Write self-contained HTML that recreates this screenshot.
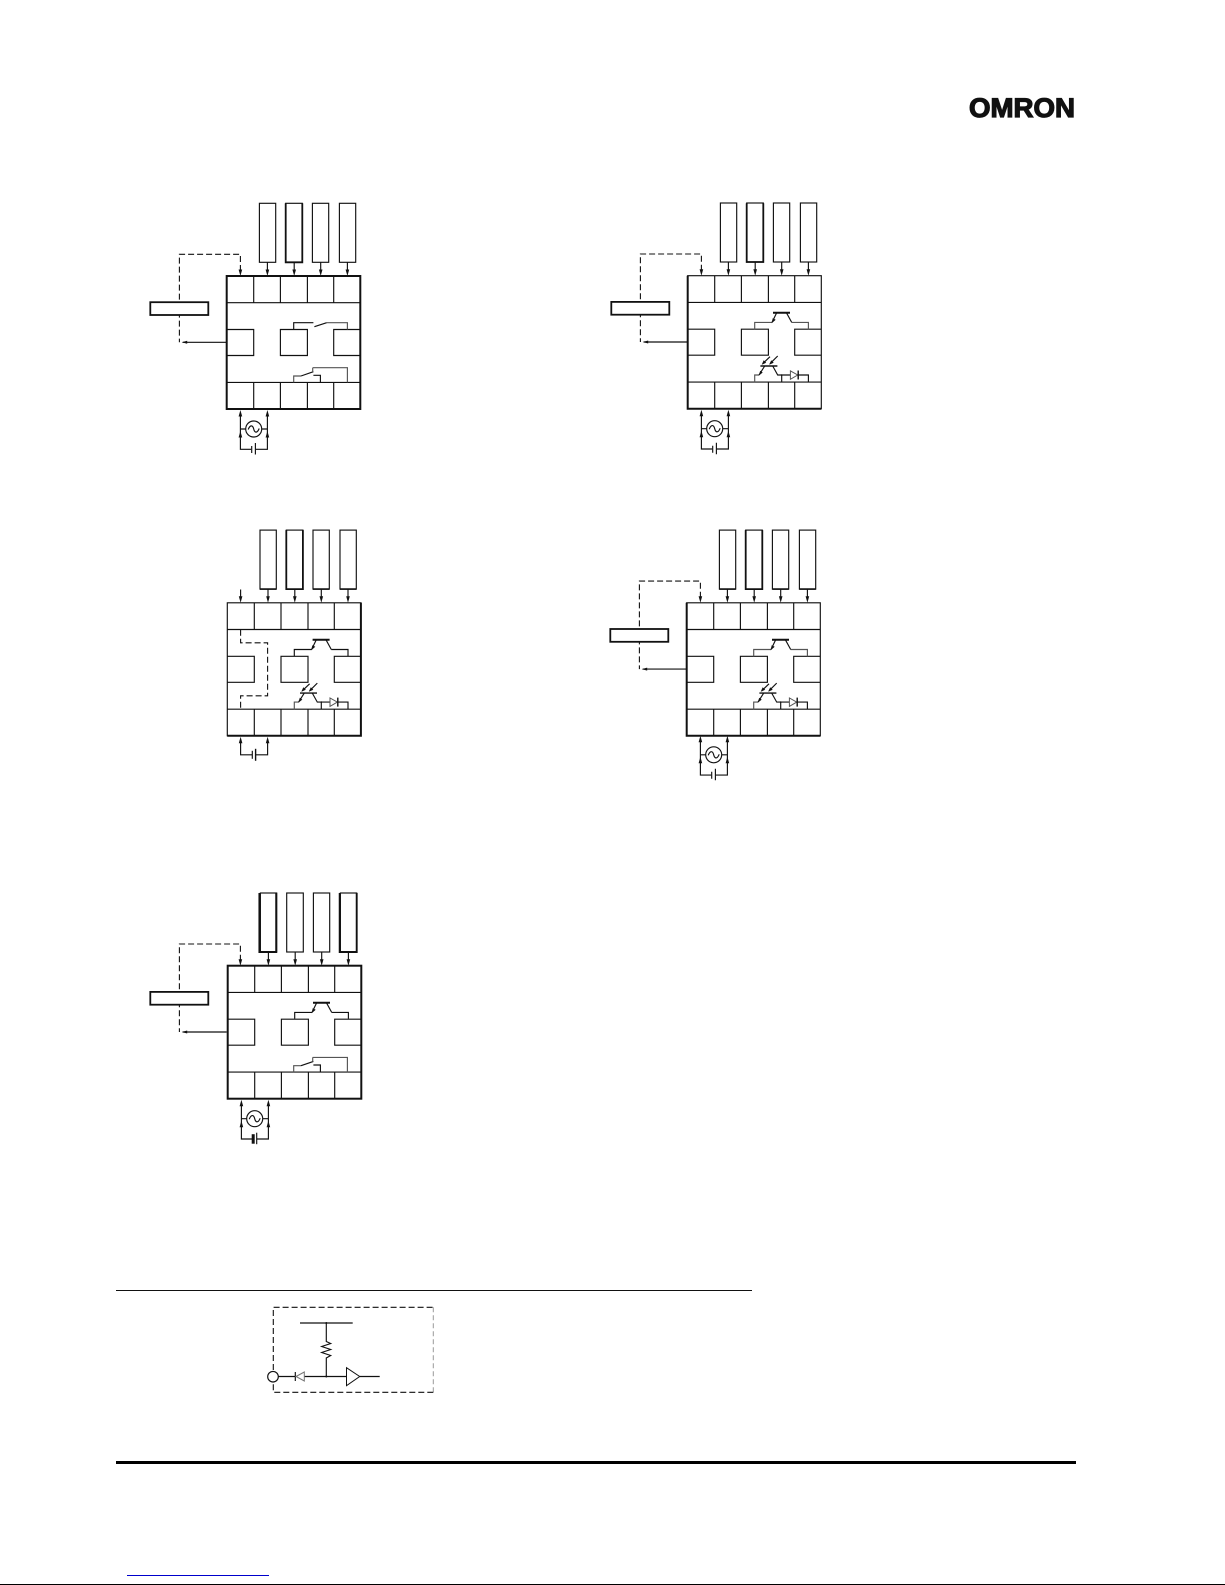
<!DOCTYPE html>
<html><head><meta charset="utf-8"><style>
html,body{margin:0;padding:0;background:#fff;width:1225px;height:1585px;overflow:hidden}
svg{display:block}
.l{fill:none;stroke:#111;stroke-width:1.15}
.g{fill:none;stroke:#555;stroke-width:1.15}
.d{fill:none;stroke:#111;stroke-width:1.1;stroke-dasharray:6 3}
.h{fill:none;stroke:#111;stroke-width:2}
.a{fill:#111;stroke:none}
.r{fill:#fff;stroke:#111;stroke-width:1.15}
</style></head><body>
<svg width="1225" height="1585" viewBox="0 0 1225 1585" xmlns="http://www.w3.org/2000/svg">
<defs>
<polygon id="ad" class="a" points="0,0 -1.8,-6.5 1.8,-6.5"/>
<polygon id="au" class="a" points="0,0 -1.8,6.5 1.8,6.5"/>
<g id="base">
  <rect class="l" x="0" y="0" width="133.6" height="133"/>
  <path class="l" d="M0 26.7H133.6M0 106.4H133.6M27 0V26.7M53.7 0V26.7M80.7 0V26.7M107 0V26.7M27 106.4V133M53.7 106.4V133M80.7 106.4V133M107 106.4V133"/>
  <path class="l" d="M0 53.5H27V79.5H0M53.7 53.5H80.7V79.5H53.7ZM133.6 53.5H107V79.5H133.6"/>
  <g>
    <rect class="r" x="32.7" y="-72.7" width="16.3" height="59"/>
    <rect class="r" x="59" y="-72.7" width="16.6" height="59"/>
    <rect class="r" x="85.7" y="-72.7" width="16.3" height="59"/>
    <rect class="r" x="112.7" y="-72.7" width="16.3" height="59"/>
  </g>
  <path class="l" d="M40.7 -13.7V-3M67.5 -13.7V-3M94 -13.7V-3M120.7 -13.7V-3"/>
  <use href="#ad" x="40.7"/><use href="#ad" x="67.5"/><use href="#ad" x="94"/><use href="#ad" x="120.7"/>
</g>
<g id="ext">
  <path class="d" d="M13.7 -5V-21.7H-47.3V66.3"/>
  <path class="l" d="M-44 66.3H0"/>
  <polygon class="a" points="-45,66.3 -39.5,64.8 -39.5,67.8"/>
  <use href="#ad" x="13.7"/>
  <rect x="-76.4" y="26.2" width="58" height="12.8" fill="#fff" stroke="#111" stroke-width="1.8"/>
</g>
<g id="acb">
  <path class="l" d="M13.7 138V173.3H24.5M29 173.3H40.7V138M13.7 153H19M35 153H40.7"/>
  <circle class="l" cx="27" cy="153" r="8"/>
  <path class="l" d="M21.5 153.5C23.5 148.5 26 149 27 153S30.5 157.5 32.5 152.5"/>
  <use href="#au" x="13.7" y="134"/><use href="#au" x="40.7" y="134"/>
  <use href="#au" x="13.7" y="155"/><use href="#au" x="40.7" y="155"/>
</g>
<g id="ac">
  <use href="#acb"/>
  <path class="l" d="M25 170V177M28.7 167V178.5"/>
</g>
<g id="ttop">
  <path class="g" d="M67 53.5V46.7H84.3"/>
  <path class="g" d="M104 46.7H120.7V53.5"/>
  <path class="l" d="M84.3 46.7L89 37M98.7 37L104 46.7"/>
  <path d="M85.3 37H102.3" stroke="#111" stroke-width="2"/>
  <polygon class="a" points="84,47.5 85,42.5 88,44"/>
</g>
<g id="tlow">
  <path class="g" d="M67 106.4V99.3H71.3"/>
  <path class="l" d="M71.3 99.3L77 90.3M85 90.3L90 99.3H94V106.4M94 99.3H102.7M110 99.3H120.7V106.4"/>
  <path d="M72.7 90.3H89.7" stroke="#111" stroke-width="1.4"/>
  <polygon class="a" points="71,100 72.5,95 75,96.8"/>
  <polygon fill="#fff" stroke="#555" points="102.7,95.2 102.7,103.6 110,99.3"/>
  <path d="M110.5 94.8V103.8" stroke="#111" stroke-width="1.4"/>
  <path class="l" d="M75 88L82.3 81M82.3 88L90 80.3"/>
  <polygon class="a" points="74,89 76,84.5 78.5,87"/>
  <polygon class="a" points="81.5,89 83.5,84.5 86,87"/>
  <circle class="a" cx="94" cy="99.3" r=".8"/>
</g>
<g id="swlow">
  <path class="g" d="M67 106.4V100H74.3"/>
  <path class="l" d="M74.3 100L86.7 95.7"/>
  <path class="g" d="M86 91.7H120.7V106.4M86 91.7V96"/>
  <path class="l" d="M86.7 99.3H93.7V106.4"/>
</g>
</defs>

<!-- Logo -->
<text x="969" y="117" font-family="'Liberation Sans',sans-serif" font-weight="700" font-size="26.5" textLength="106" lengthAdjust="spacingAndGlyphs" fill="#111" stroke="#111" stroke-width="1.2">OMRON</text>

<!-- D1 -->
<g transform="translate(226.7 276)">
  <use href="#base"/><use href="#ext"/><use href="#ac"/>
  <rect class="h" x="0" y="0" width="133.6" height="133"/>
  <path d="M59 -72.7V-13.7H75.6V-72.7" fill="none" stroke="#111" stroke-width="1.8"/>
  <path class="l" d="M67 53.5V46.7H86.7M87.7 50.7L100 46.7"/>
  <path class="g" d="M100 46.7H120.7V53.5"/>
  <use href="#swlow"/>
</g>

<!-- D2 -->
<g transform="translate(687.7 275.7)">
  <use href="#base"/><use href="#ext"/><use href="#ac"/>
  <path class="h" d="M0 0V133H133.6"/>
  <path d="M59 -72.4V-13.7H75.6V-72.4" fill="none" stroke="#111" stroke-width="1.8"/>
  <use href="#ttop"/><use href="#tlow"/>
</g>

<!-- D3 -->
<g transform="translate(227.3 602.8)">
  <use href="#base"/>
  <path class="h" d="M133.6 0V133H0"/>
  <path d="M59 -72.7V-13.7H75.6V-72.7" fill="none" stroke="#111" stroke-width="1.8"/>
  <path d="M32.7 -13.7H49M85.7 -13.7H102M112.7 -13.7H129" stroke="#111" stroke-width="1.6"/>
  <path class="l" d="M13.3 -13.3V-3"/><use href="#ad" x="13.3"/>
  <path class="d" d="M13.3 27V40H40.3V93H13.3V106.4"/>
  <path class="l" d="M13.3 138V152H25M28 152H40.3V138"/>
  <use href="#au" x="13.3" y="134"/><use href="#au" x="40.3" y="134"/>
  <path class="l" d="M25 148V156"/><path d="M28.3 146V158" stroke="#111" stroke-width="1.4"/>
  <path class="l" d="M67 53.5V46.7H84.3M104 46.7H120.7V53.5M84.3 46.7L89 37M98.7 37L104 46.7"/>
  <path d="M85.3 37H102.3" stroke="#111" stroke-width="2"/>
  <polygon class="a" points="84,47.5 85,42.5 88,44"/>
  <use href="#tlow"/>
</g>

<!-- D4 -->
<g transform="translate(686.7 602.8)">
  <use href="#base"/><use href="#ext"/><use href="#ac" transform="translate(0 -1)"/>
  <path class="h" d="M0 0V133H133.6"/>
  <path d="M59 -72.7V-13.7H75.6V-72.7" fill="none" stroke="#111" stroke-width="1.8"/>
  <path d="M32.7 -13.7H49M85.7 -13.7H102M112.7 -13.7H129" stroke="#111" stroke-width="1.6"/>
  <use href="#ttop"/><use href="#tlow"/>
</g>

<!-- D5 -->
<g transform="translate(227.7 965.7)">
  <use href="#base"/><use href="#ext" transform="translate(-1 0)"/><use href="#acb"/>
  <rect class="h" x="0" y="0" width="133.6" height="133"/>
  <path d="M31.7 -72.7V-13.7H48.5V-72.7M112 -72.7V-13.7H129V-72.7" fill="none" stroke="#111" stroke-width="1.9"/>
  <path d="M25.5 168.5V178" stroke="#111" stroke-width="3"/>
  <path class="l" d="M29 167V178.5"/>
  <path class="l" d="M67 53V46.7H84.3M104 46.7H120.7V53M84.3 46.7L89 37M98.7 37L104 46.7"/>
  <path d="M85.3 37H102.3" stroke="#111" stroke-width="2"/>
  <polygon class="a" points="84,47.5 85,42.5 88,44"/>
  <g transform="translate(-1 0)"><use href="#swlow"/></g>
</g>

<!-- Rules -->
<path d="M116 1290.5H752" stroke="#111" stroke-width="1"/>
<rect x="116" y="1461" width="960" height="3" fill="#000"/>
<rect x="127" y="1575" width="142" height="1" fill="#0000cc"/>
<rect x="0" y="1584" width="1225" height="1" fill="#000"/>

<!-- Circuit -->
<path class="d" d="M273.3 1370V1307.3H433.3" stroke-dasharray="5 3"/>
<path d="M433.3 1307.3V1392.3" fill="none" stroke="#999" stroke-width="1" stroke-dasharray="5 3"/>
<path class="d" d="M433.3 1392.3H273.3V1382"/>
<path class="l" d="M300 1323H352.7M326.3 1323V1341.5L330.7 1343.5L321.7 1346.5L330.7 1349.5L321.7 1352.5L330.7 1355.5L326.3 1358V1376.5M278.3 1376.5H296M304 1376.5H346.5M359.7 1376.5H379.7"/>
<circle class="l" cx="273" cy="1376.7" r="5.3" fill="#fff"/>
<path class="l" d="M295.3 1372V1381"/>
<polygon points="296,1376.5 304.3,1372 304.3,1381" fill="#fff" stroke="#777"/>
<polygon points="346.5,1367.7 346.5,1385.7 359.7,1376.5" fill="#fff" stroke="#111"/>
<circle class="a" cx="326.3" cy="1376.5" r="1"/>
<circle class="a" cx="326.3" cy="1323" r="1"/>
</svg>
</body></html>
